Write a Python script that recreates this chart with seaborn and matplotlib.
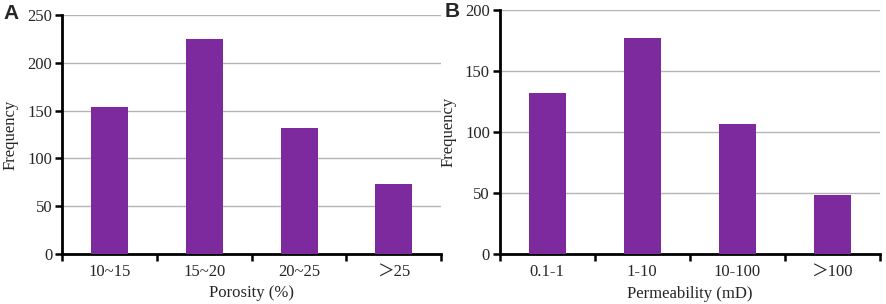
import numpy as np
import pandas as pd
import matplotlib.pyplot as plt
import seaborn as sns

# --- data ---
porosity_bins = ['10~15', '15~20', '20~25', '＞25']
porosity_freq = [154, 225, 132, 73]
perm_bins = ['0.1-1', '1-10', '10-100', '＞100']
perm_freq = [132, 177, 107, 49]

BAR = '#7d2a9f'
SERIF = ['Liberation Serif', 'Noto Sans CJK SC']

sns.set_style('white')
plt.rcParams['font.family'] = SERIF

fig = plt.figure(figsize=(8.86, 3.04), dpi=100)
ax_a = fig.add_axes([0.070, 0.164, 0.428, 0.787])
ax_b = fig.add_axes([0.564, 0.163, 0.429, 0.804])

panels = [
    (ax_a, porosity_bins, porosity_freq, 'Porosity (%)', 250, 'A'),
    (ax_b, perm_bins, perm_freq, 'Permeability (mD)', 200, 'B'),
]

for ax, cats, vals, xlab, ymax, tag in panels:
    df = pd.DataFrame({'bin': cats, 'freq': vals})
    sns.barplot(data=df, x='bin', y='freq', color=BAR, width=0.39,
                saturation=1, linewidth=0, ax=ax, zorder=3)
    ax.set_xlim(-0.5, len(cats) - 0.5)
    ax.set_ylim(0, ymax)
    ax.set_yticks(np.arange(0, ymax + 1, 50))
    ax.yaxis.grid(True, color='#b4b4b4', linewidth=1.0, zorder=0)
    ax.set_axisbelow(True)

    # tick marks at category boundaries, labels at centres
    ax.set_xticks(np.arange(-0.5, len(cats), 1.0))
    ax.set_xticklabels([])
    ax.set_xticks(np.arange(len(cats)), minor=True)
    ax.set_xticklabels(cats, minor=True, fontsize=12, family=SERIF)
    ax.tick_params(axis='x', which='major', direction='out', length=5,
                   width=1.8, color='black', bottom=True)
    ax.tick_params(axis='x', which='minor', length=0, pad=7)
    ax.tick_params(axis='y', direction='out', length=5, width=1.8,
                   color='black', left=True, labelsize=12, pad=2)

    for side in ['top', 'right']:
        ax.spines[side].set_visible(False)
    for side in ['left', 'bottom']:
        ax.spines[side].set_color('black')
        ax.spines[side].set_linewidth(2)

    ax.set_xlabel(xlab, fontsize=12, labelpad=4)
    ax.set_ylabel('Frequency', fontsize=12, labelpad=6)

fig.text(0.004, 0.955, 'A', fontsize=15, fontweight='bold',
         family='Liberation Sans', va='center')
fig.text(0.502, 0.962, 'B', fontsize=15, fontweight='bold',
         family='Liberation Sans', va='center')

fig.savefig('out.png', dpi=100)
